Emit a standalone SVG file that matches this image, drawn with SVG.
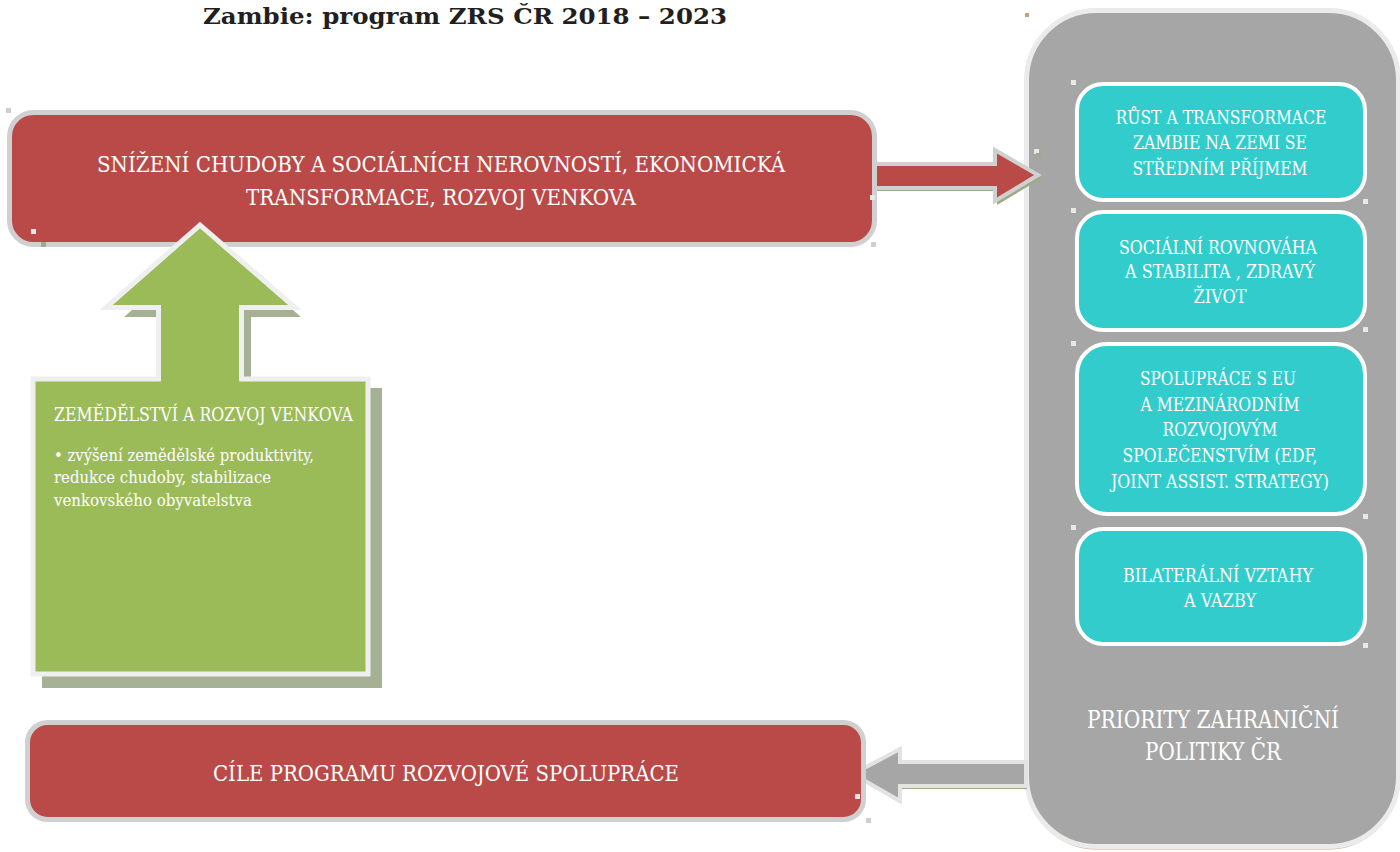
<svg xmlns="http://www.w3.org/2000/svg" width="1400" height="852" viewBox="0 0 1400 852">
<style>
.t{font-family:"DejaVu Serif Condensed","DejaVu Serif","Liberation Serif",serif;font-stretch:condensed;fill:#FFFFFF}
.c{text-anchor:middle}
.red{fill:#B94A48;stroke:#D0D0D0;stroke-width:5}
.cy{fill:#33CCCC;stroke:#FFFFFF;stroke-width:4}
.sh{fill:#A6B095}
.hm{fill:#E8E8E8}
.hg{fill:#CFCFCF}
</style>
<rect width="1400" height="852" fill="#FFFFFF"/>
<text x="465" y="24" text-anchor="middle" font-family="'DejaVu Serif','Liberation Serif',serif" font-weight="bold" font-size="23" fill="#231F20" textLength="524" lengthAdjust="spacingAndGlyphs">Zambie: program ZRS ČR 2018 – 2023</text>

<g id="panel">
<rect x="1026.5" y="13.5" width="372" height="836" rx="70" fill="#CDA585"/>
<rect x="1026.5" y="10.5" width="372" height="836" rx="70" fill="#A6A6A6" stroke="#EBEBEB" stroke-width="5"/>
<text class="t c" x="1213" y="728" font-size="24" textLength="252" lengthAdjust="spacingAndGlyphs">PRIORITY ZAHRANIČNÍ</text>
<text class="t c" x="1213" y="760" font-size="24" textLength="136" lengthAdjust="spacingAndGlyphs">POLITIKY ČR</text>
<rect x="1025" y="13" width="4" height="4" fill="#C8A07A"/>
</g>

<g id="connectors">
<polygon points="875,167 997,167 997,153 1042,178 997,205 997,191 875,191" fill="#9DAA87"/>
<polygon points="873,164 995,164 995,150 1038,175 995,201 995,188 873,188" fill="#B94A48" stroke="#D0D0D0" stroke-width="4" stroke-linejoin="miter"/>
<polygon points="1027,765 902,765 902,752 855,777 902,804 902,789 1027,789" fill="#9DAA87"/>
<polygon points="1026,762 900,762 900,749 853,774 900,801 900,786 1026,786" fill="#A6A6A6" stroke="#E3E3E3" stroke-width="4"/>
</g>

<g id="goal-top">
<rect class="red" x="9.5" y="112.5" width="865" height="132" rx="24"/>
<text class="t c" x="441" y="172" font-size="23" textLength="688" lengthAdjust="spacingAndGlyphs">SNÍŽENÍ CHUDOBY A SOCIÁLNÍCH NEROVNOSTÍ, EKONOMICKÁ</text>
<text class="t c" x="441" y="205" font-size="23" textLength="390" lengthAdjust="spacingAndGlyphs">TRANSFORMACE, ROZVOJ VENKOVA</text>
<rect class="hm" x="31" y="229" width="5" height="5"/>
<rect x="41" y="242" width="5" height="5" fill="#9DAA87"/>
<rect class="hg" x="6" y="108" width="5" height="5"/>
<rect class="hg" x="871" y="242" width="5" height="5"/>
<rect class="hm" x="870" y="195" width="5" height="5"/>
</g>

<g id="sector">
<polygon class="sh" points="173,394 173,317 124,317 212,240 301,317 251,317 251,394"/>
<rect class="sh" x="42" y="388" width="340" height="300"/>
<rect x="33" y="379" width="335" height="295" fill="#9BBB59" stroke="#EFEFEF" stroke-width="5"/>
<polygon points="161,384 161,305 112,305 200,228 289,305 239,305 239,384" fill="#9BBB59"/>
<polyline points="158.5,377 158.5,307.5 106,307.5 200,225 295,307.5 241.5,307.5 241.5,377" fill="none" stroke="#EFEFEF" stroke-width="5" stroke-linejoin="miter"/>
<text class="t" x="54" y="421" font-size="19" textLength="299" lengthAdjust="spacingAndGlyphs">ZEMĚDĚLSTVÍ A ROZVOJ VENKOVA</text>
<text class="t" x="54" y="461" font-size="16" textLength="260" lengthAdjust="spacingAndGlyphs">• zvýšení zemědělské produktivity,</text>
<text class="t" x="54" y="483" font-size="16" textLength="217" lengthAdjust="spacingAndGlyphs">redukce chudoby, stabilizace</text>
<text class="t" x="54" y="506" font-size="16" textLength="198" lengthAdjust="spacingAndGlyphs">venkovského obyvatelstva</text>
</g>

<g id="goal-bottom">
<rect class="red" x="27.5" y="722.5" width="836" height="97" rx="20"/>
<text class="t c" x="446" y="781" font-size="23" textLength="466" lengthAdjust="spacingAndGlyphs">CÍLE PROGRAMU ROZVOJOVÉ SPOLUPRÁCE</text>
<rect class="hm" x="855" y="794" width="5" height="5"/>
<rect class="hg" x="866" y="818" width="5" height="5"/>
</g>

<g id="priority-1">
<rect class="cy" x="1077" y="84" width="288" height="116" rx="26"/>
<text class="t c" x="1221" y="124" font-size="19" textLength="211" lengthAdjust="spacingAndGlyphs">RŮST A TRANSFORMACE</text>
<text class="t c" x="1220" y="149" font-size="19" textLength="174" lengthAdjust="spacingAndGlyphs">ZAMBIE NA ZEMI SE</text>
<text class="t c" x="1220" y="175" font-size="19" textLength="175" lengthAdjust="spacingAndGlyphs">STŘEDNÍM PŘÍJMEM</text>
<rect class="hm" x="1071" y="80" width="5" height="5"/>
<rect class="hm" x="1363" y="199" width="5" height="5"/>
</g>
<g id="priority-2">
<rect class="cy" x="1077" y="212" width="288" height="118" rx="26"/>
<text class="t c" x="1218" y="254" font-size="19" textLength="198" lengthAdjust="spacingAndGlyphs">SOCIÁLNÍ ROVNOVÁHA</text>
<text class="t c" x="1220" y="278" font-size="19" textLength="190" lengthAdjust="spacingAndGlyphs">A STABILITA , ZDRAVÝ</text>
<text class="t c" x="1220" y="303" font-size="19" textLength="53" lengthAdjust="spacingAndGlyphs">ŽIVOT</text>
<rect class="hm" x="1071" y="208" width="5" height="5"/>
<rect class="hm" x="1363" y="327" width="5" height="5"/>
</g>
<g id="priority-3">
<rect class="cy" x="1077" y="344" width="288" height="170" rx="30"/>
<text class="t c" x="1218" y="385" font-size="19" textLength="156" lengthAdjust="spacingAndGlyphs">SPOLUPRÁCE S EU</text>
<text class="t c" x="1220" y="411" font-size="19" textLength="159" lengthAdjust="spacingAndGlyphs">A MEZINÁRODNÍM</text>
<text class="t c" x="1220" y="436" font-size="19" textLength="115" lengthAdjust="spacingAndGlyphs">ROZVOJOVÝM</text>
<text class="t c" x="1220" y="462" font-size="19" textLength="195" lengthAdjust="spacingAndGlyphs">SPOLEČENSTVÍM (EDF,</text>
<text class="t c" x="1220" y="488" font-size="19" textLength="218" lengthAdjust="spacingAndGlyphs">JOINT ASSIST. STRATEGY)</text>
<rect class="hm" x="1071" y="341" width="5" height="5"/>
<rect class="hm" x="1363" y="514" width="5" height="5"/>
</g>
<g id="priority-4">
<rect class="cy" x="1077" y="529" width="288" height="115" rx="26"/>
<text class="t c" x="1218" y="582" font-size="19" textLength="190" lengthAdjust="spacingAndGlyphs">BILATERÁLNÍ VZTAHY</text>
<text class="t c" x="1220" y="607" font-size="19" textLength="72" lengthAdjust="spacingAndGlyphs">A VAZBY</text>
<rect class="hm" x="1071" y="525" width="5" height="5"/>
<rect class="hm" x="1363" y="643" width="5" height="5"/>
</g>
<rect class="hm" x="1034" y="149" width="5" height="5"/>
<rect x="1036" y="153" width="5" height="3" fill="#9DAA87"/>
</svg>
